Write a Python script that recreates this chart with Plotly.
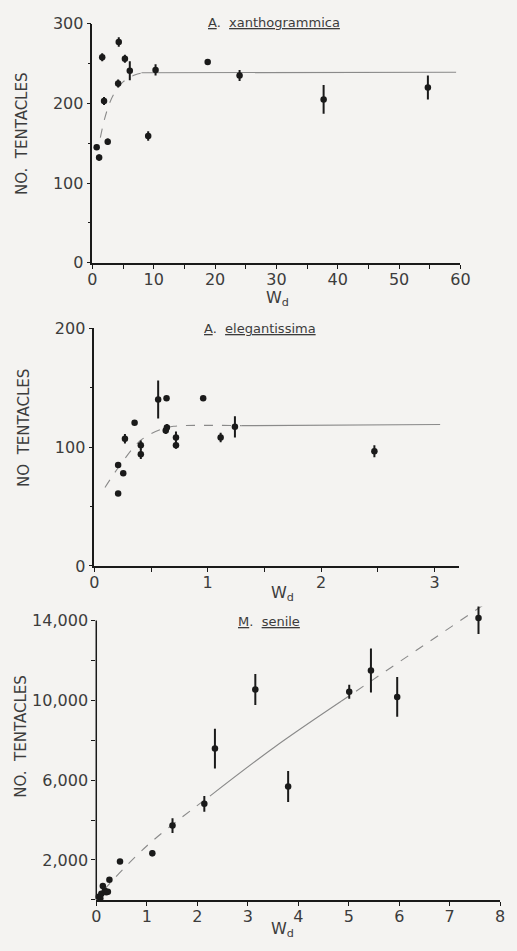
import plotly.graph_objects as go

# ---- A. xanthogrammica ----
xan_w = [0.7, 1.1, 1.6, 1.9, 2.5, 4.2, 4.3, 5.3, 6.1, 9.1, 10.3, 18.8, 24.0, 37.7, 54.7]
xan_n = [145, 132, 258, 203, 152, 225, 277, 256, 241, 159, 242, 252, 235, 205, 220]
xan_err = [3, 4, 5, 5, 4, 5, 6, 5, 12, 6, 7, 0, 7, 18, 15]
xan_curve_w = [1.3, 2, 3, 4, 5, 6, 7, 8]
xan_curve_n = [157, 181, 204, 218, 227, 232, 236, 238]
xan_plateau_w = [8, 59.3]
xan_plateau_n = [238.5, 239]

# ---- A. elegantissima ----
ele_w = [0.21, 0.21, 0.255, 0.27, 0.355, 0.41, 0.41, 0.563, 0.637, 0.63, 0.64, 0.72, 0.72, 0.96, 1.114, 1.24, 2.47]
ele_n = [61, 85, 78, 107, 120.5, 101.5, 94, 140, 141, 114, 116.5, 108, 101.5, 141, 108, 117, 96.5]
ele_err = [0, 2, 0, 4, 0, 4, 4, 16, 0, 3, 3, 5, 3, 0, 4, 9, 5]
ele_curve_w = [0.094, 0.24, 0.41, 0.6, 0.7, 1.3]
ele_curve_n = [66, 86.5, 105.7, 115.4, 117.5, 118]
ele_plateau_w = [1.3, 3.05]
ele_plateau_n = [118, 119]

# ---- M. senile ----
sen_w = [0.05, 0.08, 0.1, 0.13, 0.17, 0.2, 0.23, 0.26, 0.47, 1.11, 1.51, 2.14, 2.35, 3.15, 3.80, 5.01, 5.44, 5.96, 7.57]
sen_n = [150, 80, 300, 690, 450, 380, 400, 1010, 1920, 2340, 3720, 4810, 7580, 10540, 5680, 10430, 11490, 10170, 14120]
sen_err = [0, 0, 0, 0, 0, 0, 0, 0, 0, 150, 370, 400, 1000, 780, 780, 350, 1100, 1000, 800]
sen_line_low_w = [0.15, 1.0, 2.25]
sen_line_low_n = [500, 2700, 5200]
sen_line_mid_w = [2.25, 3.5, 4.85]
sen_line_mid_n = [5200, 7600, 9950]
sen_line_top_w = [4.85, 7.65]
sen_line_top_n = [9950, 14750]

sen_ticks = [0, 2000, 4000, 6000, 8000, 10000, 12000, 14000]
sen_ticktext = ["", "2,000", "", "6,000", "", "10,000", "", "14,000"]

W, H = 517, 951
BG = "#f4f3f1"
INK = "#1a1a1a"
TXT = "#3c3c3c"
FIT = "#8a8a8a"
FONT = "DejaVu Sans"


def px(x):
    return x / W


def py(y):
    return 1 - y / H


fig = go.Figure()


def points(xs, ys, errs, xa, ya):
    fig.add_trace(go.Scatter(
        x=xs, y=ys, mode="markers", xaxis=xa, yaxis=ya,
        marker=dict(color=INK, size=6.5),
        error_y=dict(type="data", array=errs, visible=True, color=INK,
                     thickness=2, width=0),
        cliponaxis=False, showlegend=False, hoverinfo="skip"))


def fitline(xs, ys, xa, ya, dash):
    fig.add_trace(go.Scatter(
        x=xs, y=ys, mode="lines", xaxis=xa, yaxis=ya,
        line=dict(color=FIT, width=1.1, dash=dash, shape="spline"),
        showlegend=False, hoverinfo="skip"))


fitline(xan_curve_w, xan_curve_n, "x", "y", "dash")
fitline(xan_plateau_w, xan_plateau_n, "x", "y", "solid")
points(xan_w, xan_n, xan_err, "x", "y")

fitline(ele_curve_w, ele_curve_n, "x2", "y2", "dash")
fitline(ele_plateau_w, ele_plateau_n, "x2", "y2", "solid")
points(ele_w, ele_n, ele_err, "x2", "y2")

fitline(sen_line_low_w, sen_line_low_n, "x3", "y3", "dash")
fitline(sen_line_mid_w, sen_line_mid_n, "x3", "y3", "solid")
fitline(sen_line_top_w, sen_line_top_n, "x3", "y3", "dash")
points(sen_w, sen_n, sen_err, "x3", "y3")

axis_common = dict(
    showline=True, linecolor=INK, linewidth=1.5, showgrid=False,
    zeroline=False, ticks="outside", ticklen=4, tickwidth=1.2,
    tickcolor=INK, tickfont=dict(family=FONT, size=16, color=TXT),
)
xaxis_common = dict(axis_common, ticklabelstandoff=-3)

fig.update_layout(
    width=W, height=H,
    margin=dict(l=0, r=0, t=0, b=0),
    paper_bgcolor=BG, plot_bgcolor=BG,
    xaxis=dict(domain=[px(90), px(469)], range=[0, 60], anchor="y",
               dtick=10, minor=dict(dtick=5, ticks="outside", ticklen=4,
                                    tickcolor=INK), **xaxis_common),
    yaxis=dict(domain=[py(259), py(15)], range=[0, 300], anchor="x",
               dtick=100, minor=dict(dtick=50, ticks="outside", ticklen=3,
                                     tickcolor=INK), **axis_common),
    xaxis2=dict(domain=[px(92), px(468)], range=[0, 3.22], anchor="y2",
                dtick=1, minor=dict(dtick=0.5, ticks="outside", ticklen=4,
                                    tickcolor=INK), **xaxis_common),
    yaxis2=dict(domain=[py(568.3), py(325.7)], range=[0, 200], anchor="x2",
                dtick=100, minor=dict(dtick=50, ticks="outside", ticklen=3,
                                      tickcolor=INK), **axis_common),
    xaxis3=dict(domain=[px(94), px(510)], range=[0, 8], anchor="y3",
                dtick=1, **xaxis_common),
    yaxis3=dict(domain=[py(909), py(609.7)], range=[0, 14700], anchor="x3",
                tickvals=sen_ticks, ticktext=sen_ticktext,
                **{**axis_common, "showline": False}),
)

# left axis line of the M. senile panel stops at 14,000
fig.add_shape(type="line", xref="x3 domain", yref="y3", x0=0, x1=0,
              y0=0, y1=14000, line=dict(color=INK, width=1.5))

ann_font = dict(family=FONT, size=13, color=TXT)
lab_font = dict(family=FONT, size=15, color=TXT)
wd_font = dict(family=FONT, size=16, color=TXT)

annotations = [
    dict(text="<u>A</u>.  <u>xanthogrammica</u>", x=px(277), y=py(14), font=ann_font),
    dict(text="<u>A</u>.  <u>elegantissima</u>", x=px(263), y=py(326), font=ann_font),
    dict(text="<u>M</u>.  <u>senile</u>", x=px(272), y=py(625), font=ann_font),
    dict(text="NO.  TENTACLES", x=px(18), y=py(127), textangle=-90, font=lab_font),
    dict(text="NO  TENTACLES", x=px(20), y=py(427), textangle=-90, font=lab_font),
    dict(text="NO.  TENTACLES", x=px(17), y=py(743), textangle=-90, font=lab_font),
]
for a in annotations:
    fig.add_annotation(xref="paper", yref="paper", showarrow=False,
                       xanchor="center", yanchor="middle", **a)

# W_d axis labels, anchored at their top edge
for xpos, ytop in [(281, 283), (286, 584), (286, 927)]:
    fig.add_annotation(xref="paper", yref="paper", showarrow=False,
                       text="W<sub>d</sub>", x=px(xpos), y=py(ytop),
                       xanchor="center", yanchor="top", font=wd_font)

fig.write_html("out.html")
